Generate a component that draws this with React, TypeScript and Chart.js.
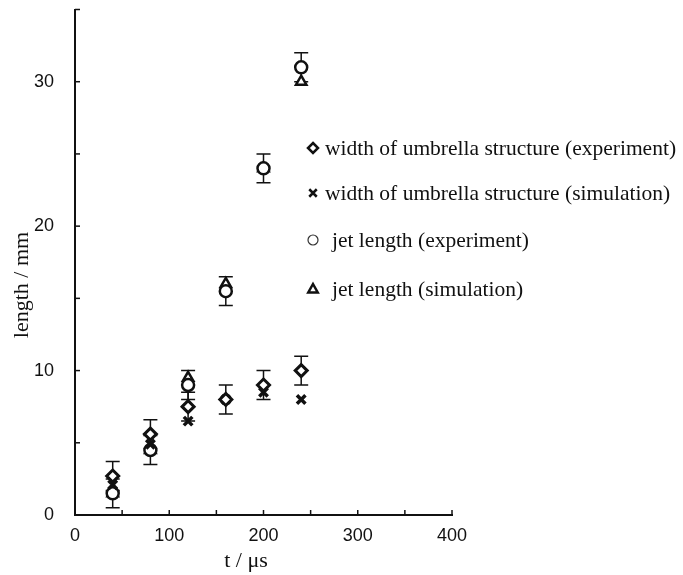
import React, { useEffect, useRef } from 'react';
import { Chart, registerables } from 'chart.js';

Chart.register(...registerables);

const times = [40, 80, 120, 160, 200, 240];
const widthExperiment = [2.7, 5.6, 7.5, 8, 9, 10];
const widthExperimentError = [1, 1, 1, 1, 1, 1];
const widthSimulation = [2.1, 4.9, 6.5, 8, 8.5, 8];
const jetExperiment = [1.5, 4.5, 9, 15.5, 24, 31];
const jetExperimentError = [1, 1, 1, 1, 1, 1];
const jetSimulation = [1.5, 4.5, 9.5, 16, 24, 30];

const legendLabels = [
  'width of umbrella structure (experiment)',
  'width of umbrella structure (simulation)',
  'jet length (experiment)',
  'jet length (simulation)',
];
const xTitle = 't / μs';
const yTitle = 'length / mm';
const xMin = 0, xMax = 400, xStep = 50, xLabelEvery = 100;
const yMin = 0, yMax = 35, yStep = 5, yLabelEvery = 10;

const SERIF = "'Liberation Serif', 'Times New Roman', serif";
const SANS = "'Liberation Sans', Arial, sans-serif";
const INK = '#111';

const toPts = (ys: number[]) => times.map((t, i) => ({ x: t, y: ys[i] }));

function drawMarker(ctx: CanvasRenderingContext2D, kind: string, x: number, y: number, r: number, lw: number, color: string) {
  ctx.save();
  ctx.strokeStyle = color;
  ctx.fillStyle = '#fff';
  ctx.lineWidth = lw;
  ctx.beginPath();
  if (kind === 'diamond') {
    ctx.moveTo(x, y - r); ctx.lineTo(x + r, y); ctx.lineTo(x, y + r); ctx.lineTo(x - r, y); ctx.closePath();
    ctx.fill(); ctx.stroke();
  } else if (kind === 'cross') {
    ctx.moveTo(x - r * 0.75, y - r * 0.75); ctx.lineTo(x + r * 0.75, y + r * 0.75);
    ctx.moveTo(x + r * 0.75, y - r * 0.75); ctx.lineTo(x - r * 0.75, y + r * 0.75);
    ctx.stroke();
  } else if (kind === 'circle') {
    ctx.arc(x, y, r, 0, Math.PI * 2);
    ctx.fill(); ctx.stroke();
  } else {
    ctx.moveTo(x, y - r); ctx.lineTo(x + r * 0.95, y + r * 0.7); ctx.lineTo(x - r * 0.95, y + r * 0.7); ctx.closePath();
    ctx.fill(); ctx.stroke();
  }
  ctx.restore();
}

const errorBarPlugin = {
  id: 'errorBars',
  beforeDatasetsDraw(chart: any) {
    const { ctx, scales } = chart;
    ctx.save();
    ctx.strokeStyle = INK;
    ctx.lineWidth = 1.5;
    chart.data.datasets.forEach((ds: any) => {
      if (!ds.errors) return;
      ds.data.forEach((p: any, i: number) => {
        const e = ds.errors[i];
        const x = scales.x.getPixelForValue(p.x);
        const yt = scales.y.getPixelForValue(p.y + e);
        const yb = scales.y.getPixelForValue(p.y - e);
        ctx.beginPath();
        ctx.moveTo(x, yt); ctx.lineTo(x, yb);
        ctx.moveTo(x - 7, yt); ctx.lineTo(x + 7, yt);
        ctx.moveTo(x - 7, yb); ctx.lineTo(x + 7, yb);
        ctx.stroke();
      });
    });
    ctx.restore();
  },
};

const decorPlugin = {
  id: 'decor',
  afterDraw(chart: any) {
    const { ctx, scales, chartArea } = chart;
    ctx.save();
    ctx.strokeStyle = INK;
    ctx.lineWidth = 1.5;
    // inward tick marks
    scales.x.ticks.forEach((t: any) => {
      const px = scales.x.getPixelForValue(t.value);
      ctx.beginPath(); ctx.moveTo(px, chartArea.bottom); ctx.lineTo(px, chartArea.bottom - 5); ctx.stroke();
    });
    scales.y.ticks.forEach((t: any) => {
      const py = scales.y.getPixelForValue(t.value);
      ctx.beginPath(); ctx.moveTo(chartArea.left, py); ctx.lineTo(chartArea.left + 5, py); ctx.stroke();
    });
    // axis titles
    ctx.fillStyle = INK;
    ctx.font = `22px ${SERIF}`;
    ctx.textAlign = 'center';
    ctx.textBaseline = 'middle';
    ctx.fillText(xTitle, 246, 561);
    ctx.save();
    ctx.translate(22, 285);
    ctx.rotate(-Math.PI / 2);
    ctx.fillText(yTitle, 0, 0);
    ctx.restore();
    // legend
    const kinds = ['diamond', 'cross', 'circle', 'triangle'];
    const rowsY = [148, 193, 240, 289];
    const textX = [325, 325, 332, 332];
    ctx.font = `21.5px ${SERIF}`;
    ctx.textAlign = 'left';
    legendLabels.forEach((label, i) => {
      const k = kinds[i];
      drawMarker(ctx, k, 313, rowsY[i], 5, k === 'circle' ? 1.2 : 2.5, k === 'circle' ? '#333' : INK);
      ctx.fillStyle = INK;
      ctx.fillText(label, textX[i], rowsY[i] + 1);
    });
    ctx.restore();
  },
};

export default function App() {
  const ref = useRef<HTMLCanvasElement>(null);
  useEffect(() => {
    document.body.style.margin = '0';
    const canvas = ref.current!;
    const chart = new Chart(canvas, {
      type: 'scatter',
      data: {
        datasets: [
          {
            label: legendLabels[0], data: toPts(widthExperiment), errors: widthExperimentError,
            pointStyle: 'rectRot', pointRadius: 6, borderWidth: 3, borderColor: INK, backgroundColor: '#fff',
          } as any,
          {
            label: legendLabels[1], data: toPts(widthSimulation),
            pointStyle: 'crossRot', pointRadius: 6, borderWidth: 3.5, borderColor: INK, backgroundColor: '#fff',
          },
          {
            label: legendLabels[2], data: toPts(jetExperiment), errors: jetExperimentError,
            pointStyle: 'circle', pointRadius: 6, borderWidth: 2.5, borderColor: INK, backgroundColor: '#fff',
          } as any,
          {
            label: legendLabels[3], data: toPts(jetSimulation),
            pointStyle: 'triangle', pointRadius: 6, borderWidth: 2.5, borderColor: INK, backgroundColor: '#fff',
          },
        ],
      },
      options: {
        animation: false,
        responsive: false,
        layout: { padding: { top: 9, right: 231, left: 0, bottom: 0 } },
        plugins: { legend: { display: false }, tooltip: { enabled: false } },
        scales: {
          x: {
            type: 'linear', min: xMin, max: xMax,
            grid: { display: false, drawTicks: false },
            border: { display: true, color: INK, width: 2 },
            ticks: {
              stepSize: xStep, padding: 10, color: INK, font: { family: SANS, size: 18 },
              maxRotation: 0, autoSkip: false,
              callback: (v: any) => (Number(v) % xLabelEvery === 0 ? String(v) : ''),
            },
            afterFit: (s: any) => { s.height = 60; s.paddingLeft = 0; s.paddingRight = 0; s.paddingTop = 0; s.paddingBottom = 0; },
          },
          y: {
            type: 'linear', min: yMin, max: yMax,
            grid: { display: false, drawTicks: false },
            border: { display: true, color: INK, width: 2 },
            ticks: {
              stepSize: yStep, padding: 21, color: INK, font: { family: SANS, size: 18 }, autoSkip: false,
              callback: (v: any) => (Number(v) % yLabelEvery === 0 ? String(v) : ''),
            },
            afterFit: (s: any) => { s.width = 75; s.paddingLeft = 0; s.paddingRight = 0; s.paddingTop = 0; s.paddingBottom = 0; },
          },
        },
      },
      plugins: [errorBarPlugin, decorPlugin],
    } as any);
    return () => chart.destroy();
  }, []);
  return (
    <div style={{ width: 683, height: 575, background: '#fff' }}>
      <canvas ref={ref} width={683} height={575} />
    </div>
  );
}
